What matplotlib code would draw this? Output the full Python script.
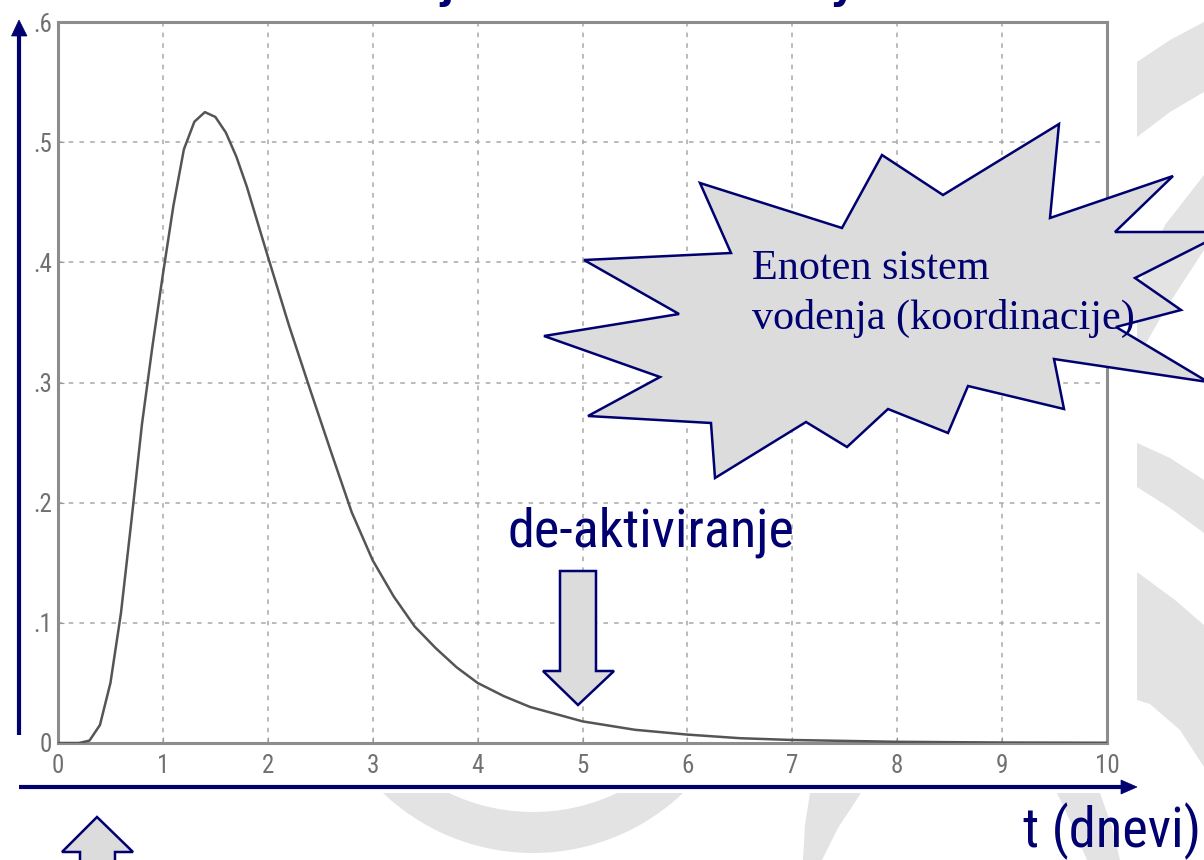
import matplotlib
matplotlib.use("Agg")
import matplotlib.pyplot as plt
import matplotlib.font_manager as fm
from matplotlib.patches import Polygon, Rectangle, Circle

# ---------------- data ----------------
t_days = [0, 0.2, 0.3, 0.4, 0.5, 0.6, 0.7, 0.8, 0.9, 1.0, 1.1, 1.2, 1.3, 1.4,
          1.5, 1.6, 1.7, 1.8, 1.9, 2.0, 2.2, 2.4, 2.6, 2.8, 3.0, 3.2, 3.4,
          3.6, 3.8, 4.0, 4.25, 4.5, 5.0, 5.5, 6.0, 6.5, 7.0, 8.0, 9.0, 10.0]
activity = [0, 0, 0.002, 0.015, 0.05, 0.108, 0.185, 0.265, 0.33, 0.39, 0.447,
            0.494, 0.517, 0.525, 0.521, 0.508, 0.488, 0.463, 0.434, 0.405,
            0.348, 0.295, 0.243, 0.192, 0.152, 0.122, 0.097, 0.079, 0.063,
            0.05, 0.039, 0.03, 0.018, 0.011, 0.007, 0.004, 0.0025, 0.001,
            0.0004, 0.0002]
x_ticks = [0, 1, 2, 3, 4, 5, 6, 7, 8, 9, 10]
x_tick_labels = ["0", "1", "2", "3", "4", "5", "6", "7", "8", "9", "10"]
y_ticks = [0, 0.1, 0.2, 0.3, 0.4, 0.5, 0.6]
y_tick_labels = ["0", ".1", ".2", ".3", ".4", ".5", ".6"]
burst_lines = ["Enoten sistem", "vodenja (koordinacije)"]
arrow_label = "de-aktiviranje"
x_axis_label = "t (dnevi)"

NAVY = "#000070"
GREYFILL = "#dcdcdc"
DECOR = "#e3e3e3"

avail = {f.name for f in fm.fontManager.ttflist}
narrow = next((n for n in ["Liberation Sans Narrow", "DejaVu Sans Condensed",
                           "Roboto Condensed"] if n in avail), None)
sans = narrow if narrow else "DejaVu Sans"
tick_font = narrow if narrow else "Liberation Sans"
serif = "Liberation Serif"

W, H = 1204, 860
fig = plt.figure(figsize=(W / 100, H / 100), dpi=100)
fig.patch.set_facecolor("white")

# ---------------- background decoration (slide template) ----------------
bg = fig.add_axes([0, 0, 1, 1], zorder=0)
bg.set_xlim(0, W); bg.set_ylim(H, 0); bg.axis("off")
shapes = [
    [(1137, 62), (1170, 40), (1204, 22), (1204, 92), (1170, 112), (1137, 137)],
    [(1204, 175), (1204, 250), (1165, 310), (1145, 345), (1137, 345), (1137, 290), (1165, 225)],
    [(1137, 443), (1170, 458), (1204, 480), (1204, 533), (1170, 508), (1137, 487)],
    [(1137, 572), (1175, 600), (1204, 625), (1204, 767), (1180, 730), (1150, 704), (1137, 700)],
    [(810, 793), (861, 793), (838, 828), (822, 860), (803, 860), (805, 825)],
    [(1057, 793), (1100, 793), (1113, 830), (1120, 860), (1087, 860), (1072, 825)],
]
for s in shapes:
    bg.add_patch(Polygon(s, closed=True, facecolor=DECOR, edgecolor="none"))
bg.add_patch(Circle((533, 635.5), 217.5, facecolor=DECOR, edgecolor="none"))
bg.add_patch(Circle((533, 617), 195, facecolor="white", edgecolor="none"))
bg.add_patch(Rectangle((0, 0), 1136, 793, facecolor="white", edgecolor="none"))

# ---------------- main chart ----------------
ax = fig.add_axes([58 / W, 1 - 743 / H, 1049 / W, 721 / H], zorder=1)
ax.set_facecolor("white")
ax.plot(t_days, activity, color="#555555", lw=1.8, zorder=3)
ax.set_xlim(0, 10)
ax.set_ylim(0, 0.6)
ax.set_xticks(x_ticks)
ax.set_xticklabels(x_tick_labels)
ax.set_yticks(y_ticks)
ax.set_yticklabels(y_tick_labels)
ax.grid(True, color="#a8a8a8", linestyle=(0, (3, 4)), lw=1.1)
for sp in ax.spines.values():
    sp.set_color("#8c8c8c")
    sp.set_linewidth(2.2)
ax.tick_params(axis="both", direction="in", length=4, color="#9a9a9a",
               labelcolor="#707070", labelsize=18 if narrow else 14)
ax.tick_params(axis="x", pad=8)
ax.tick_params(axis="y", pad=4)
for lab in ax.get_xticklabels() + ax.get_yticklabels():
    lab.set_fontfamily(tick_font)

# ---------------- overlay: arrows, burst, texts ----------------
fg = fig.add_axes([0, 0, 1, 1], zorder=2)
fg.patch.set_alpha(0)
fg.set_xlim(0, W); fg.set_ylim(H, 0); fg.axis("off")

# axis arrows
fg.plot([19, 19], [735, 34], color=NAVY, lw=3, solid_capstyle="butt")
fg.add_patch(Polygon([(19, 20), (11.5, 36), (27, 36)], closed=True,
                     facecolor=NAVY, edgecolor=NAVY, lw=0.5))
fg.plot([19, 1123], [787, 787], color=NAVY, lw=3, solid_capstyle="butt")
fg.add_patch(Polygon([(1137, 787), (1121, 780), (1121, 794)], closed=True,
                     facecolor=NAVY, edgecolor=NAVY, lw=0.5))

# starburst
burst = [(700, 183), (842, 228), (882, 155), (943, 195), (1059, 124),
         (1050, 218), (1173, 176), (1115, 232), (1226, 232), (1135, 278),
         (1181, 310), (1116, 327), (1208, 382), (1054, 359), (1064, 409),
         (968, 386), (948, 433), (888, 409), (847, 447), (806, 422),
         (715, 478), (711, 423), (588, 416), (660, 377), (544, 336),
         (679, 314), (584, 260), (731, 253)]
fg.add_patch(Polygon(burst, closed=True, facecolor=GREYFILL,
                     edgecolor=NAVY, lw=1.8, joinstyle="miter", zorder=1))
b1 = fg.text(752, 279, burst_lines[0], family=serif, fontsize=29, color=NAVY,
             ha="left", va="baseline", zorder=2)
b2 = fg.text(752, 329, burst_lines[1], family=serif, fontsize=29, color=NAVY,
             ha="left", va="baseline", zorder=2)

# block arrows
down = [(560, 571), (596, 571), (596, 671), (614, 671), (578, 705),
        (543, 671), (560, 671)]
fg.add_patch(Polygon(down, closed=True, facecolor=GREYFILL, edgecolor=NAVY,
                     lw=1.8, joinstyle="miter"))
up = [(97, 817), (133, 852), (115, 852), (115, 875), (80, 875), (80, 852),
      (62, 852)]
fg.add_patch(Polygon(up, closed=True, facecolor=GREYFILL, edgecolor=NAVY,
                     lw=1.8, joinstyle="miter"))

# texts
t1 = fg.text(507, 547, arrow_label, family=sans, fontsize=28, color=NAVY,
             ha="left", va="baseline")
t2 = fg.text(1201, 847, x_axis_label, family=sans, fontsize=28, color=NAVY,
             ha="right", va="baseline")
# cut-off title descenders at the very top
fg.text(447, -1, "j", family="DejaVu Sans", fontweight="bold", fontsize=28,
        color=NAVY, ha="center", va="baseline")
fg.text(842, -1, "y", family="DejaVu Sans", fontweight="bold", fontsize=28,
        color=NAVY, ha="center", va="baseline")

fig.canvas.draw()
r = fig.canvas.get_renderer()
for txt, target in ((t1, 286), (t2, 178), (b2, 383)):
    w = txt.get_window_extent(r).width
    txt.set_fontsize(txt.get_fontsize() * target / w)
b1.set_fontsize(b2.get_fontsize())

fig.savefig("out.png", dpi=100)
